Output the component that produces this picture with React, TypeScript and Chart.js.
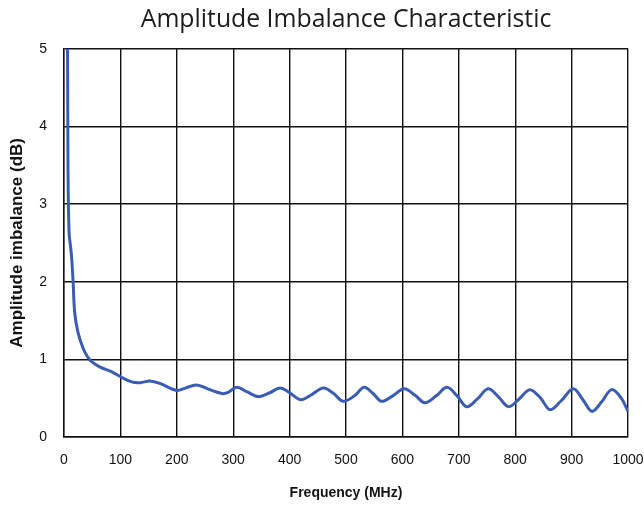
import React, { useEffect, useRef } from "react";
import { Chart, registerables } from "chart.js";

Chart.register(...registerables);

const chartTitle = "Amplitude Imbalance Characteristic";
const xAxisTitle = "Frequency (MHz)";
const yAxisTitle = "Amplitude imbalance (dB)";

const xTickValues = [0, 100, 200, 300, 400, 500, 600, 700, 800, 900, 1000];
const yTickValues = [0, 1, 2, 3, 4, 5];

const frequencyMHz = [
  5, 7, 9, 13, 16, 19, 25, 34, 42, 49, 64, 85, 102, 120, 135, 152, 170, 200,
  215, 235, 255, 280, 290, 306, 325, 345, 365, 383, 400, 420, 440, 460, 478,
  495, 515, 532, 548, 563, 583, 603, 622, 640, 660, 679, 697, 714, 733, 752,
  770, 788, 807, 826, 845, 862, 882, 903, 920, 936, 953, 971, 988, 1000,
];

const imbalanceDb = [
  8.0, 3.62, 2.64, 2.36, 2.02, 1.6, 1.34, 1.14, 1.03, 0.97, 0.9, 0.84, 0.77,
  0.71, 0.7, 0.72, 0.69, 0.6, 0.63, 0.67, 0.62, 0.56, 0.57, 0.64, 0.58, 0.52,
  0.57, 0.63, 0.57, 0.48, 0.55, 0.63, 0.56, 0.46, 0.53, 0.64, 0.56, 0.46, 0.53,
  0.62, 0.54, 0.44, 0.53, 0.64, 0.53, 0.39, 0.49, 0.62, 0.52, 0.39, 0.49, 0.61,
  0.5, 0.35, 0.47, 0.62, 0.48, 0.33, 0.45, 0.61, 0.5, 0.33,
];

const SANS = "'Liberation Sans', Arial, sans-serif";

export default function App() {
  const canvasRef = useRef<HTMLCanvasElement | null>(null);

  useEffect(() => {
    document.body.style.margin = "0";
    const canvas = canvasRef.current;
    if (!canvas) return;
    const chart = new Chart(canvas, {
      type: "line",
      data: {
        datasets: [
          {
            data: frequencyMHz.map((f, i) => ({ x: f, y: imbalanceDb[i] })),
            borderColor: "#3B5CB3",
            borderWidth: 3,
            pointRadius: 0,
            tension: 0.35,
            fill: false,
          },
        ],
      },
      options: {
        responsive: false,
        animation: false,
        devicePixelRatio: 1,
        layout: { padding: { left: 0, right: 0, top: 0, bottom: 0 } },
        plugins: {
          legend: { display: false },
          tooltip: { enabled: false },
          title: {
            display: true,
            text: chartTitle,
            fullSize: false,
            color: "#1c1c1c",
            font: { family: "'Open Sans', sans-serif", size: 24.8, weight: "normal" },
            padding: { top: 5, bottom: 14 },
          },
        },
        scales: {
          x: {
            type: "linear",
            min: 0,
            max: 1000,
            afterBuildTicks: (scale: any) => {
              scale.ticks = xTickValues.map((v) => ({ value: v }));
            },
            afterFit: (scale: any) => {
              scale.height = 69;
              scale.paddingLeft = 0;
              scale.paddingRight = 16;
            },
            ticks: {
              color: "#111",
              padding: 15,
              maxRotation: 0,
              font: { family: SANS, size: 14 },
              callback: (v: any) => String(v),
            },
            grid: { color: "#111", lineWidth: 1.4, drawTicks: false },
            border: { color: "#111", width: 1.4 },
            title: {
              display: true,
              text: xAxisTitle,
              color: "#111",
              font: { family: SANS, size: 14, weight: "bold" },
              padding: { top: 0, bottom: 4 },
            },
          },
          y: {
            type: "linear",
            min: 0,
            max: 5,
            afterBuildTicks: (scale: any) => {
              scale.ticks = yTickValues.map((v) => ({ value: v }));
            },
            afterFit: (scale: any) => {
              scale.width = 64;
            },
            ticks: {
              color: "#111",
              padding: 17,
              font: { family: SANS, size: 14 },
              callback: (v: any) => String(v),
            },
            grid: { color: "#111", lineWidth: 1.4, drawTicks: false },
            border: { color: "#111", width: 1.4 },
            title: {
              display: true,
              text: yAxisTitle,
              color: "#111",
              font: { family: SANS, size: 17, weight: "bold" },
              padding: { top: 7, bottom: 0 },
            },
          },
        },
      },
    });
    return () => chart.destroy();
  }, []);

  return (
    <div style={{ width: 644, height: 506 }}>
      <canvas ref={canvasRef} width={644} height={506} style={{ display: "block" }} />
    </div>
  );
}
